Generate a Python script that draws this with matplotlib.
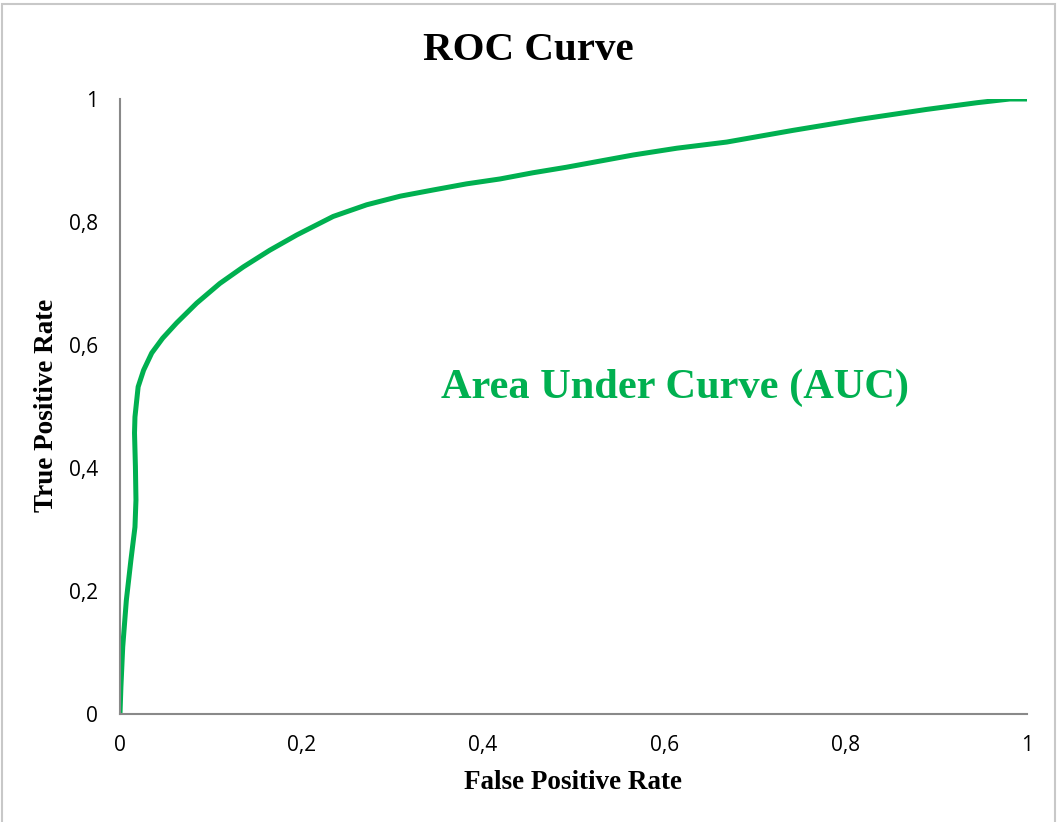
import matplotlib
matplotlib.use('Agg')
import matplotlib.pyplot as plt
from matplotlib.ticker import FuncFormatter
from matplotlib.patches import Rectangle

# ROC curve points
fpr = [0.0, 0.001, 0.003, 0.007, 0.012, 0.0165, 0.0176, 0.017, 0.016, 0.0165,
       0.020, 0.026, 0.035, 0.047, 0.0625, 0.0845, 0.110, 0.136, 0.165, 0.195,
       0.235, 0.272, 0.309, 0.345, 0.382, 0.419, 0.455, 0.492, 0.529, 0.566,
       0.614, 0.669, 0.742, 0.816, 0.889, 0.945, 0.981, 1.0]
tpr = [0.0, 0.044, 0.109, 0.185, 0.25, 0.304, 0.348, 0.402, 0.457, 0.483,
       0.532, 0.559, 0.587, 0.611, 0.636, 0.668, 0.70, 0.727, 0.754, 0.779,
       0.809, 0.828, 0.842, 0.852, 0.862, 0.870, 0.880, 0.889, 0.899, 0.909,
       0.920, 0.930, 0.949, 0.967, 0.983, 0.994, 1.0, 1.0]
ticks = [0, 0.2, 0.4, 0.6, 0.8, 1]

green = '#00B050'
serif = ['Liberation Serif', 'DejaVu Serif']

fig = plt.figure(figsize=(10.57, 8.22), dpi=100)
ax = fig.add_axes([120 / 1057, 1 - 714 / 822, 907 / 1057, 615 / 822])

ax.plot(fpr, tpr, color=green, linewidth=3.6, solid_capstyle='butt', solid_joinstyle='round')

ax.set_xlim(0, 1)
ax.set_ylim(0, 1)
ax.set_xticks(ticks)
ax.set_yticks(ticks)

fmt = FuncFormatter(lambda v, p: ('%g' % v).replace('.', ','))
ax.xaxis.set_major_formatter(fmt)
ax.yaxis.set_major_formatter(fmt)
ax.tick_params(length=0, labelsize=15)
ax.tick_params(axis='x', pad=15)
ax.tick_params(axis='y', pad=16)
for lab in ax.get_xticklabels() + ax.get_yticklabels():
    lab.set_family('Open Sans')

for s in ['top', 'right']:
    ax.spines[s].set_visible(False)
for s in ['left', 'bottom']:
    ax.spines[s].set_color('#898989')
    ax.spines[s].set_linewidth(1.5)

fig.text(0.5, 1 - 50 / 822, 'ROC Curve', ha='center', va='center',
         fontsize=29.5, fontweight='bold', family=serif)
fig.text(573 / 1057, 1 - 782 / 822, 'False Positive Rate', ha='center', va='center',
         fontsize=19.5, fontweight='bold', family=serif)
fig.text(47 / 1057, 1 - 405 / 822, 'True Positive Rate', ha='center', va='center',
         rotation=90, fontsize=19.5, fontweight='bold', family=serif)
ax.text(675 / 1057, 1 - 388 / 822, 'Area Under Curve (AUC)', transform=fig.transFigure,
        ha='center', va='center', fontsize=30.5, fontweight='bold', color=green, family=serif)

# light frame round the chart area
fig.patches.append(Rectangle((1.5 / 1057, -0.01), 1053 / 1057, 1.01 - 4 / 822,
                             transform=fig.transFigure, fill=False,
                             edgecolor='#c8c8c8', linewidth=1.5))

fig.savefig('out.png', dpi=100)
